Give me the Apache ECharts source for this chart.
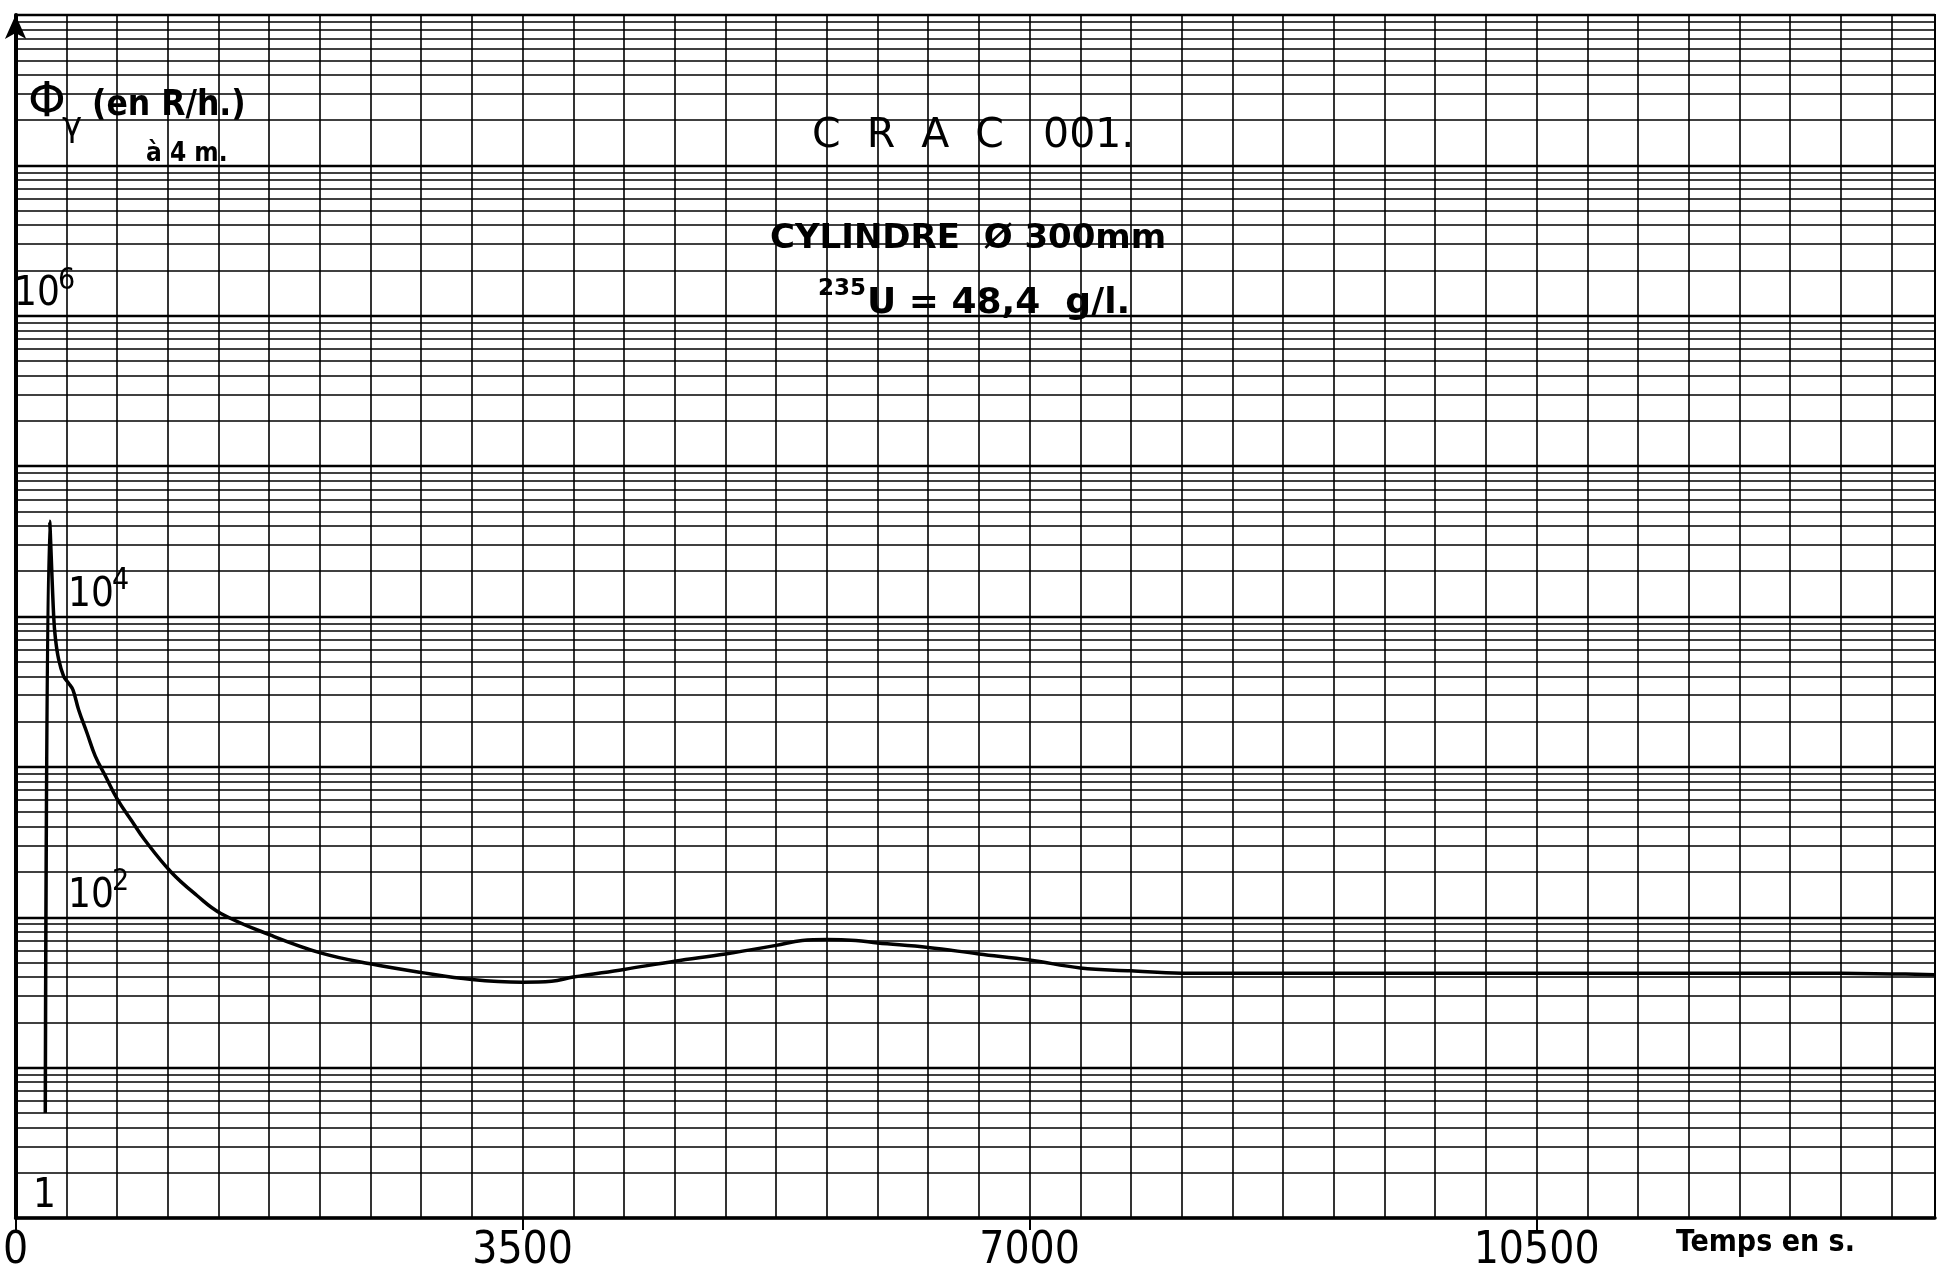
<!DOCTYPE html>
<html>
<head>
<meta charset="utf-8">
<script src="https://cdn.jsdelivr.net/npm/echarts@6/dist/echarts.min.js"></script>
<style>
  html, body { margin: 0; padding: 0; background: #fff; }
  #chart { width: 1944px; height: 1275px; }
</style>
</head>
<body>
<div id="chart"></div>
<script>
// CRAC 001 — débit de dose gamma à 4 m en fonction du temps (papier semi-log).
const TIME_S = [
  205, 235, 263, 274, 297, 332, 366, 396, 435, 493, 550, 620, 702, 800, 888,
  1073, 1250, 1417, 1761, 2105, 2449, 2793, 3150, 3500, 3700, 3850, 4200,
  4550, 4900, 5250, 5430, 5600, 5800, 5950, 6300, 6650, 7000, 7350, 7700,
  8050, 8400, 8750, 9450, 10150, 10850, 11550, 12250, 12950, 13250,
];
const FLUX_R_H = [
  5, 43000, 10000, 7300, 5200, 4000, 3600, 3250, 2400, 1680, 1180, 870, 610,
  440, 330, 200, 140, 106, 76, 58, 49, 43, 38.5, 37, 37.5, 40, 45, 51, 57, 65,
  70, 71, 70, 67.5, 63, 57, 52, 46, 44, 42.5, 42.5, 42.5, 42.5, 42.5, 42.5, 42.5, 42.5, 42, 41.5,
];

// graduation du papier
const X_MAX = 13250;
const X_GRID_STEP = 350;
const X_LABEL_STEP = 3500;
const Y_MIN = 1;
const Y_MAX = 1e8;
const DECADES = [1, 10, 100, 1e3, 1e4, 1e5, 1e6, 1e7];
const SUB_MULTIPLIERS = [2, 3, 4, 5, 6, 7, 8, 9];

// étiquettes des décades écrites à la main dans le graphique
const Y_LABEL_VALUES = [1, 100, 1e4, 1e6];
const Y_LABEL_BASES = ["1", "10", "10", "10"];
const Y_LABEL_EXPS = ["", "2", "4", "6"];
const Y_LABEL_LEFT = [33, 68, 68, 14];

const INK = "#000";
const HAND_FONT = "'Liberation Sans Narrow', 'DejaVu Sans Condensed', sans-serif";
const TITLE_FONT = "'DejaVu Sans', sans-serif";

const minorLines = [];
DECADES.forEach(function (d) {
  SUB_MULTIPLIERS.forEach(function (m) {
    minorLines.push({ yAxis: d * m });
  });
});

const curve = TIME_S.map(function (t, i) { return [t, FLUX_R_H[i]]; });

const chart = echarts.init(document.getElementById("chart"), null, { renderer: "canvas" });

chart.setOption({
  animation: false,
  backgroundColor: "#fff",
  grid: {
    left: 12, right: 9, top: 15, bottom: 57,
    show: true, borderColor: INK, borderWidth: 2,
  },
  xAxis: [
    {
      type: "value", min: 0, max: X_MAX, interval: X_GRID_STEP,
      axisLine: { show: true, lineStyle: { color: INK, width: 3.5 } },
      axisTick: { show: false },
      axisLabel: { show: false },
      splitLine: { show: true, lineStyle: { color: INK, width: 1.6 } },
    },
    {
      type: "value", min: 0, max: X_MAX, interval: X_LABEL_STEP, position: "bottom",
      axisLine: { show: false },
      axisTick: { show: true, length: 12, lineStyle: { color: INK, width: 2 } },
      axisLabel: {
        show: true, color: INK, fontSize: 44, fontFamily: HAND_FONT,
        margin: 12, showMaxLabel: false,
        formatter: function (v) { return String(v); },
      },
      splitLine: { show: false },
    },
  ],
  yAxis: {
    type: "log", logBase: 10, min: Y_MIN, max: Y_MAX,
    axisLine: {
      show: true, symbol: ["none", "arrow"], symbolSize: [16, 24],
      lineStyle: { color: INK, width: 4 },
    },
    axisTick: { show: false },
    axisLabel: { show: false },
    splitLine: { show: true, lineStyle: { color: INK, width: 2.4 } },
  },
  series: [
    {
      name: "paper",
      type: "line",
      data: [],
      silent: true,
      z: 1,
      markLine: {
        silent: true,
        symbol: ["none", "none"],
        label: { show: false },
        lineStyle: { color: INK, width: 1.5, type: "solid" },
        emphasis: { disabled: true },
        data: minorLines,
      },
    },
    {
      name: "flux",
      type: "line",
      data: curve,
      showSymbol: false,
      smooth: 0.4,
      z: 5,
      lineStyle: { color: INK, width: 3.5 },
    },
  ],
});

// textes manuscrits posés sur le papier
const texts = [];
Y_LABEL_VALUES.forEach(function (v, i) {
  const py = chart.convertToPixel({ yAxisIndex: 0 }, v);
  texts.push({
    type: "text", x: Y_LABEL_LEFT[i], y: py - 1,
    style: { text: Y_LABEL_BASES[i], fill: INK, fontSize: 40, fontFamily: HAND_FONT, verticalAlign: "bottom" },
  });
  if (Y_LABEL_EXPS[i]) {
    texts.push({
      type: "text", x: Y_LABEL_LEFT[i] + 44, y: py - 20,
      style: { text: Y_LABEL_EXPS[i], fill: INK, fontSize: 30, fontFamily: HAND_FONT, verticalAlign: "bottom" },
    });
  }
});

texts.push(
  { type: "text", x: 812, y: 116, style: { text: "C  R  A  C   001.", fill: INK, fontSize: 41, fontFamily: TITLE_FONT } },
  { type: "text", x: 770, y: 222, style: { text: "CYLINDRE  Ø 300mm", fill: INK, fontSize: 34, fontWeight: "bold", fontFamily: TITLE_FONT } },
  { type: "text", x: 818, y: 278, style: { text: "235", fill: INK, fontSize: 23, fontWeight: "bold", fontFamily: TITLE_FONT } },
  { type: "text", x: 867, y: 286, style: { text: "U = 48,4  g/l.", fill: INK, fontSize: 36, fontWeight: "bold", fontFamily: TITLE_FONT } },
  { type: "text", x: 28, y: 80, style: { text: "Φ", fill: INK, fontSize: 48, fontFamily: TITLE_FONT } },
  { type: "text", x: 62, y: 110, style: { text: "γ", fill: INK, fontSize: 34, fontFamily: TITLE_FONT } },
  { type: "text", x: 92, y: 88, style: { text: "(en R/h.)", fill: INK, fontSize: 35, fontWeight: "bold", fontFamily: HAND_FONT } },
  { type: "text", x: 146, y: 141, style: { text: "à 4 m.", fill: INK, fontSize: 26, fontWeight: "bold", fontFamily: HAND_FONT } },
  { type: "text", x: 1676, y: 1228, style: { text: "Temps en s.", fill: INK, fontSize: 30, fontWeight: "bold", fontFamily: HAND_FONT } }
);

chart.setOption({ graphic: texts });
</script>
</body>
</html>
